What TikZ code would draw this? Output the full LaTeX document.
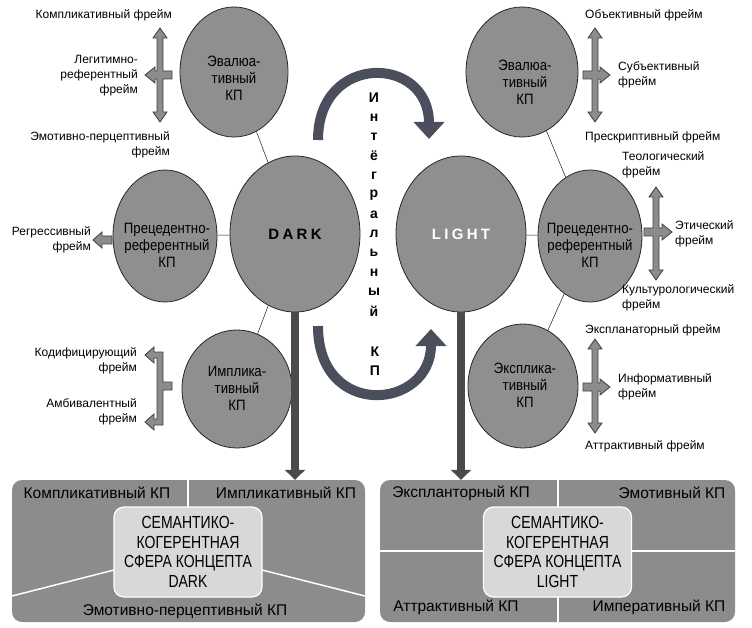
\documentclass[tikz,border=0pt]{standalone}
\usepackage{fontspec}
\setmainfont{Liberation Sans}
\newfontfamily\narrowsf[FakeStretch=0.88]{Liberation Sans}
\newfontfamily\coresf[FakeStretch=0.8]{Liberation Sans}
\newfontfamily\polesf[LetterSpace=22]{Liberation Sans}
\usetikzlibrary{shapes.geometric,arrows.meta}

\definecolor{kpfill}{HTML}{8F8F8F}
\definecolor{arcslate}{HTML}{4B4E5C}
\definecolor{boxfill}{HTML}{8C8C8C}
\definecolor{corefill}{HTML}{D8D8D8}
\definecolor{shaftgray}{HTML}{4A4A4A}

\tikzset{
  kp/.style={ellipse, draw=black!85, fill=kpfill, line width=0.8pt, inner sep=0pt},
  kptext/.style={align=center, inner sep=0pt, font=\narrowsf\fontsize{15}{17}\selectfont},
  pole/.style={ellipse, draw=black!85, fill=kpfill, line width=0.8pt, inner sep=0pt,
    minimum width=130, minimum height=156, font=\polesf\bfseries\fontsize{15}{15}\selectfont},
  link/.style={draw=black!90, line width=0.5pt},
  frametext/.style={inner sep=0pt, font=\fontsize{12}{15}\selectfont},
  framearrow/.style={fill=boxfill, draw=black!75, line width=0.8pt, line join=miter},
  arcarrow/.style={draw=arcslate, line width=10pt, -{Triangle[width=30pt,length=17pt]}},
  droparrow/.style={draw=shaftgray, line width=8pt, -{Triangle[width=20pt,length=10pt]}},
  vletter/.style={inner sep=0pt, font=\bfseries\fontsize{14}{14}\selectfont},
  sphere/.style={rectangle, rounded corners=10pt, fill=boxfill, inner sep=0pt},
  divider/.style={draw=white, line width=1.5pt},
  core/.style={rectangle, rounded corners=10pt, fill=corefill, draw=white, line width=1.2pt,
    align=center, inner sep=0pt, minimum width=148, minimum height=90,
    font=\coresf\fontsize{17.5}{19.5}\selectfont},
  boxlabel/.style={inner sep=0pt, font=\fontsize{15.5}{18}\selectfont},
}

% vertical double arrow with a side branch:
% #1 shaft x, #2 top tip, #3 bottom tip, #4 branch y, #5 branch tip x, #6 side (1 right, -1 left)
\newcommand{\crossarrow}[6]{%
  \filldraw[framearrow]
    (#1,#2) -- ({#1-(#6)*7},{#2+10}) -- ({#1-(#6)*3},{#2+10})
    -- ({#1-(#6)*3},{#4-4}) -- ({#1-(#6)*12},{#4-4}) -- ({#1-(#6)*12},{#4+4})
    -- ({#1-(#6)*3},{#4+4}) -- ({#1-(#6)*3},{#3-10}) -- ({#1-(#6)*7},{#3-10})
    -- (#1,#3) -- ({#1+(#6)*7},{#3-10}) -- ({#1+(#6)*3},{#3-10})
    -- ({#1+(#6)*3},{#4+4}) -- ({#5-(#6)*10},{#4+4}) -- ({#5-(#6)*10},{#4+8})
    -- (#5,#4) -- ({#5-(#6)*10},{#4-8}) -- ({#5-(#6)*10},{#4-4})
    -- ({#1+(#6)*3},{#4-4}) -- ({#1+(#6)*3},{#2+10}) -- ({#1+(#6)*7},{#2+10}) -- cycle;}

\begin{document}
\begin{tikzpicture}[x=1pt, y=-1pt]
  \useasboundingbox (0,0) rectangle (752,628);

  % --- DARK / LIGHT ---
  \node[pole, text=black] (dark) at (295,234) {DARK};
  \node[pole, text=white] (light) at (461,234) {LIGHT};

  % --- КП слева ---
  \node[kp, minimum width=108, minimum height=130] (evalL) at (234,72) {};
  \node[kp, minimum width=104, minimum height=132] (precL) at (165,236) {};
  \node[kp, minimum width=110, minimum height=118] (implL) at (237,389) {};
  \node[kptext] (evalLtxt) at (234,78) {Эвалюа-\\тивный\\КП};
  \node[kptext] (precLtxt) at (167,245) {Прецедентно-\\референтный\\КП};
  \node[kptext] (implLtxt) at (237,388) {Импликa-\\тивный\\КП};

  % --- КП справа ---
  \node[kp, minimum width=112, minimum height=130] (evalR) at (522,72) {};
  \node[kp, minimum width=104, minimum height=132] (precR) at (590,236) {};
  \node[kp, minimum width=110, minimum height=124] (explR) at (523,386) {};
  \node[kptext] (evalRtxt) at (525,82) {Эвалюа-\\тивный\\КП};
  \node[kptext] (precRtxt) at (590,245) {Прецедентно-\\референтный\\КП};
  \node[kptext] (explRtxt) at (525,385) {Эксплика-\\тивный\\КП};

  \draw[link] (evalL) -- (dark);
  \draw[link] (precL) -- (dark);
  \draw[link] (dark) -- (implL);
  \draw[link] (evalR) -- (precR);
  \draw[link] (light) -- (precR);
  \draw[link] (precR) -- (explR);

  % --- фреймы слева ---
  \crossarrow{160}{28}{122}{75}{145}{-1}
  \node[frametext, anchor=east] (fCompl) at (172,15) {Компликативный фрейм};
  \node[frametext, anchor=east, align=right] (fLegit) at (138,76) {Легитимно-\\референтный\\фрейм};
  \node[frametext, anchor=east, align=right] (fEmoPer) at (170,145) {Эмотивно-перцептивный\\фрейм};

  \filldraw[framearrow] (112,236) -- (102,236) -- (102,232) -- (93,240) -- (102,248) -- (102,244) -- (112,244) -- cycle;
  \node[frametext, anchor=east, align=right] (fRegr) at (91,240) {Регрессивный\\фрейм};

  \filldraw[framearrow] (145,355) -- (154,347) -- (154,352) -- (163,352) -- (163,382) -- (172,382)
    -- (172,390) -- (163,390) -- (163,425) -- (154,425) -- (154,430) -- (145,422) -- (154,414)
    -- (154,419) -- (157,419) -- (157,358) -- (154,358) -- (154,363) -- cycle;
  \node[frametext, anchor=east, align=right] (fKodif) at (137,361) {Кодифицирующий\\фрейм};
  \node[frametext, anchor=east, align=right] (fAmbiv) at (137,412) {Амбивалентный\\фрейм};

  % --- фреймы справа ---
  \crossarrow{595}{28}{122}{75}{610}{1}
  \node[frametext, anchor=west] (fObj) at (585,15) {Объективный фрейм};
  \node[frametext, anchor=west, align=left] (fSubj) at (618,75) {Субъективный\\фрейм};
  \node[frametext, anchor=west] (fPresc) at (585,137) {Прескриптивный фрейм};

  \crossarrow{656}{187}{280}{232}{672}{1}
  \node[frametext, anchor=west, align=left] (fTheo) at (622,165) {Теологический\\фрейм};
  \node[frametext, anchor=west, align=left] (fEth) at (675,234) {Этический\\фрейм};
  \node[frametext, anchor=west, align=left] (fCult) at (622,298) {Культурологический\\фрейм};

  \crossarrow{595}{339}{433}{387}{610}{1}
  \node[frametext, anchor=west] (fExplan) at (585,330) {Экспланаторный фрейм};
  \node[frametext, anchor=west, align=left] (fInform) at (618,387) {Информативный\\фрейм};
  \node[frametext, anchor=west] (fAttr) at (585,446) {Аттрактивный фрейм};

  % --- интегральный КП ---
  \draw[arcarrow] (318,140) .. controls (318,52) and (429,55) .. (429,139);
  \draw[arcarrow] (318,326) .. controls (318,420) and (431,410) .. (431,329);
  \foreach \ch [count=\i] in {И,н,т,ё,г,р,а,л,ь,н,ы,й}
    \node[vletter] (int\i) at (374,{98+19.4*(\i-1)}) {\ch};
  \node[vletter] (intK) at (375,352) {К};
  \node[vletter] (intP) at (375,371) {П};

  % --- семантико-когерентные сферы ---
  \node[sphere, minimum width=353, minimum height=142] (darksphere) at (188.5,551) {};
  \node[sphere, minimum width=355, minimum height=142] (lightsphere) at (557.5,551) {};
  \draw[droparrow] (dark.south) -- (dark.south |- darksphere.north);
  \draw[droparrow] (light.south) -- (light.south |- lightsphere.north);

  \draw[divider] (188,480) -- (188,507);
  \draw[divider] (114,570) -- (12,596);
  \draw[divider] (262,570) -- (365,596);
  \draw[divider] (558,480) -- (558,622);
  \draw[divider] (380,551) -- (735,551);

  \node[core] (darkcore) at (188,552) {СЕМАНТИКО-\\КОГЕРЕНТНАЯ\\СФЕРА КОНЦЕПТА\\DARK};
  \node[core] (lightcore) at (557.5,552) {СЕМАНТИКО-\\КОГЕРЕНТНАЯ\\СФЕРА КОНЦЕПТА\\LIGHT};

  \node[boxlabel] (complKP) at (97,493) {Компликативный КП};
  \node[boxlabel] (implKP) at (286,493) {Импликативный КП};
  \node[boxlabel] (emoperKP) at (185,611) {Эмотивно-перцептивный КП};
  \node[boxlabel] (explKP) at (461,493) {Экспланторный КП};
  \node[boxlabel] (emoKP) at (672,493) {Эмотивный КП};
  \node[boxlabel] (attrKP) at (456,607) {Аттрактивный КП};
  \node[boxlabel] (imperKP) at (659,607) {Императивный КП};
\end{tikzpicture}
\end{document}
